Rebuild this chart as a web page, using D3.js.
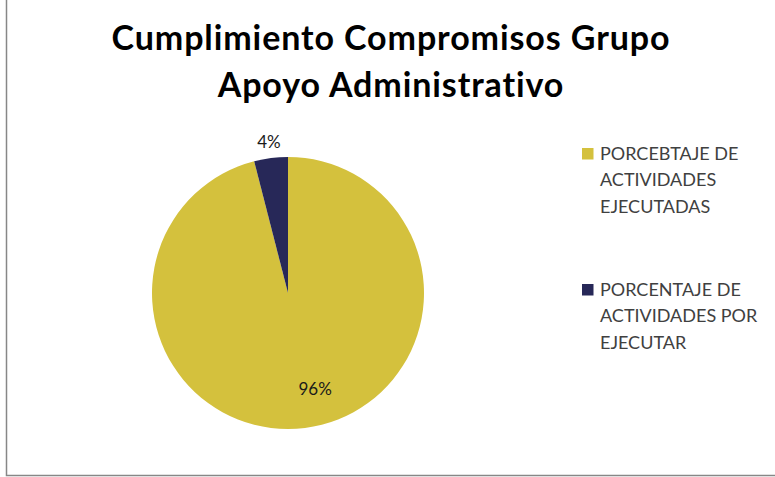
<!DOCTYPE html>
<html>
<head>
<meta charset="utf-8">
<script src="https://cdn.jsdelivr.net/npm/d3@7"></script>
<style>
  body { margin: 0; background: #fff; }
  svg { display: block; font-family: Lato, "Open Sans", sans-serif; font-variant-ligatures: none; }
</style>
</head>
<body>
<div id="chart"></div>
<script>
// chart data
const categories = ["PORCEBTAJE DE ACTIVIDADES EJECUTADAS", "PORCENTAJE DE ACTIVIDADES POR EJECUTAR"];
const legendLines = [["PORCEBTAJE DE", "ACTIVIDADES", "EJECUTADAS"], ["PORCENTAJE DE", "ACTIVIDADES POR", "EJECUTAR"]];
const values = [96, 4];
const titleLines = ["Cumplimiento Compromisos Grupo", "Apoyo Administrativo"];
const colors = ["#d4c13d", "#272858"];

const width = 775, height = 477;
const cx = 288, cy = 293, radius = 136;

const svg = d3.select("#chart")
    .append("svg")
    .attr("width", width)
    .attr("height", height);

// chart area border (top and right run off the picture)
svg.append("rect")
    .attr("x", 6.5)
    .attr("y", -5)
    .attr("width", 820)
    .attr("height", 480.5)
    .attr("fill", "none")
    .attr("stroke", "#878787")
    .attr("stroke-width", 1.5);

// title
svg.append("text")
    .attr("text-anchor", "middle")
    .style("font-size", "34px")
    .style("font-weight", "bold")
    .style("letter-spacing", "0.9px")
    .style("fill", "#000")
    .selectAll("tspan")
    .data(titleLines)
    .join("tspan")
    .attr("x", 391)
    .attr("y", (d, i) => 50 + i * 47)
    .text(d => d);

const pie = d3.pie().sort(null).value(d => d);
const arcs = pie(values);
const arc = d3.arc().innerRadius(0).outerRadius(radius);

const g = svg.append("g")
    .attr("transform", `translate(${cx},${cy})`);

g.selectAll(".slice")
    .data(arcs)
    .join("path")
    .attr("class", "slice")
    .attr("d", arc)
    .attr("fill", (d, i) => colors[i]);

// data labels: big slice inside, small slice outside
const labelRadius = [97, 152];
const labelDx = [15, 0];
g.selectAll(".lbl")
    .data(arcs)
    .join("text")
    .attr("class", "lbl")
    .attr("transform", (d, i) => {
        const a = (d.startAngle + d.endAngle) / 2;
        const r = labelRadius[i];
        return `translate(${Math.sin(a) * r + labelDx[i]},${-Math.cos(a) * r})`;
    })
    .attr("text-anchor", "middle")
    .attr("dy", "0.35em")
    .style("font-size", "17px")
    .style("fill", "#1a1a1a")
    .text(d => d.value + "%");

// legend
const legend = svg.append("g")
    .attr("transform", "translate(582,148)");

const item = legend.selectAll(".item")
    .data(categories)
    .join("g")
    .attr("class", "item")
    .attr("transform", (d, i) => `translate(0,${i * 136})`);

item.append("rect")
    .attr("width", 11.5)
    .attr("height", 11.5)
    .attr("fill", (d, i) => colors[i]);

item.append("text")
    .style("font-size", "18px")
    .style("fill", "#404040")
    .selectAll("tspan")
    .data((d, i) => legendLines[i])
    .join("tspan")
    .attr("x", 18)
    .attr("y", (d, j) => 12 + j * 26.3)
    .text(d => d);
</script>
</body>
</html>
